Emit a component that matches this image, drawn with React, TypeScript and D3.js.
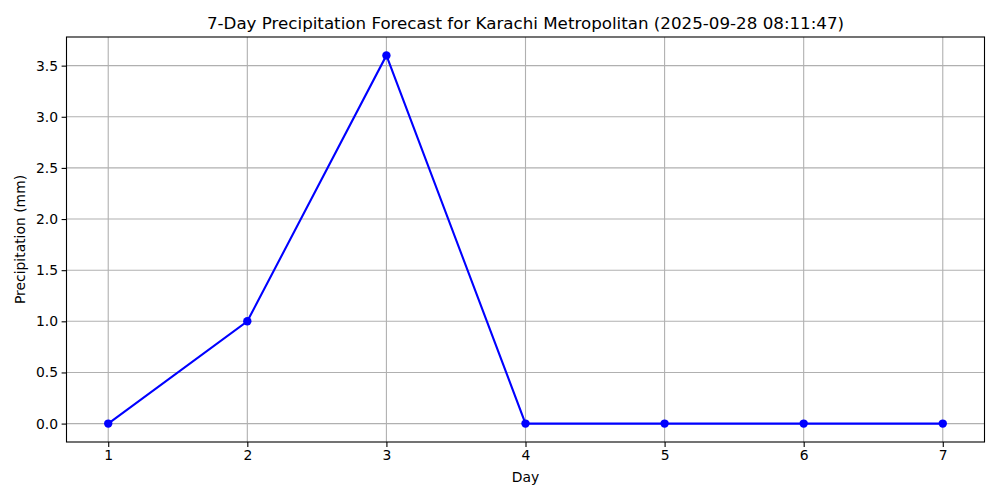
import React, { useRef, useEffect } from "react";
import * as d3 from "d3";

const days = [1, 2, 3, 4, 5, 6, 7];
const precipitation = [0, 1.0, 3.6, 0, 0, 0, 0];
const yTicks = [0, 0.5, 1.0, 1.5, 2.0, 2.5, 3.0, 3.5];
const title = "7-Day Precipitation Forecast for Karachi Metropolitan (2025-09-28 08:11:47)";

const App = () => {
  const svgRef = useRef<SVGSVGElement | null>(null);

  useEffect(() => {
    const svg = d3.select(svgRef.current);
    svg.selectAll("*").remove();

    const width = 1000;
    const height = 500;
    const left = 66.5;
    const right = 984.5;
    const top = 37;
    const bottom = 442;
    const font = "DejaVu Sans, sans-serif";

    svg.attr("width", width).attr("height", height);
    svg.append("rect").attr("width", width).attr("height", height).attr("fill", "white");

    const x = d3.scaleLinear().domain([0.7, 7.3]).range([left, right]);
    const y = d3.scaleLinear().domain([-0.18, 3.78]).range([bottom, top]);

    // grid
    const grid = svg.append("g").attr("stroke", "#b0b0b0").attr("stroke-width", 1.1);
    grid
      .selectAll("line.gx")
      .data(days)
      .enter()
      .append("line")
      .attr("x1", (d) => x(d))
      .attr("x2", (d) => x(d))
      .attr("y1", top)
      .attr("y2", bottom);
    grid
      .selectAll("line.gy")
      .data(yTicks)
      .enter()
      .append("line")
      .attr("x1", left)
      .attr("x2", right)
      .attr("y1", (d) => y(d))
      .attr("y2", (d) => y(d));

    // x axis
    const xAxis = d3
      .axisBottom(x)
      .tickValues(days)
      .tickFormat(d3.format("d"))
      .tickSize(4.9)
      .tickPadding(3.5);
    const gx = svg.append("g").attr("transform", `translate(0, ${bottom})`).call(xAxis);
    gx.select(".domain").remove();
    gx.selectAll("text").attr("font-family", font).attr("font-size", 13.9).attr("fill", "black");
    gx.selectAll("line").attr("stroke", "black").attr("stroke-width", 1.1);

    // y axis
    const yAxis = d3
      .axisLeft(y)
      .tickValues(yTicks)
      .tickFormat(d3.format(".1f"))
      .tickSize(4.9)
      .tickPadding(3.5);
    const gy = svg.append("g").attr("transform", `translate(${left}, 0)`).call(yAxis);
    gy.select(".domain").remove();
    gy.selectAll("text").attr("font-family", font).attr("font-size", 13.9).attr("fill", "black");
    gy.selectAll("line").attr("stroke", "black").attr("stroke-width", 1.1);

    // line
    const line = d3
      .line<number>()
      .x((d, i) => x(days[i]))
      .y((d) => y(d));
    svg
      .append("path")
      .datum(precipitation)
      .attr("d", line)
      .attr("fill", "none")
      .attr("stroke", "blue")
      .attr("stroke-width", 2.08);

    svg
      .selectAll("circle")
      .data(precipitation)
      .enter()
      .append("circle")
      .attr("cx", (d, i) => x(days[i]))
      .attr("cy", (d) => y(d))
      .attr("r", 4.2)
      .attr("fill", "blue");

    // spines
    svg
      .append("rect")
      .attr("x", left)
      .attr("y", top)
      .attr("width", right - left)
      .attr("height", bottom - top)
      .attr("fill", "none")
      .attr("stroke", "black")
      .attr("stroke-width", 1.1);

    // labels
    svg
      .append("text")
      .attr("x", (left + right) / 2)
      .attr("y", 28.5)
      .attr("text-anchor", "middle")
      .attr("font-family", font)
      .attr("font-size", 16.7)
      .text(title);

    svg
      .append("text")
      .attr("x", (left + right) / 2)
      .attr("y", 482)
      .attr("text-anchor", "middle")
      .attr("font-family", font)
      .attr("font-size", 13.9)
      .text("Day");

    svg
      .append("text")
      .attr("transform", `translate(25, ${(top + bottom) / 2}) rotate(-90)`)
      .attr("text-anchor", "middle")
      .attr("font-family", font)
      .attr("font-size", 13.9)
      .text("Precipitation (mm)");
  }, []);

  return <svg ref={svgRef} style={{ position: "absolute", left: 0, top: 0 }} />;
};

export default App;
